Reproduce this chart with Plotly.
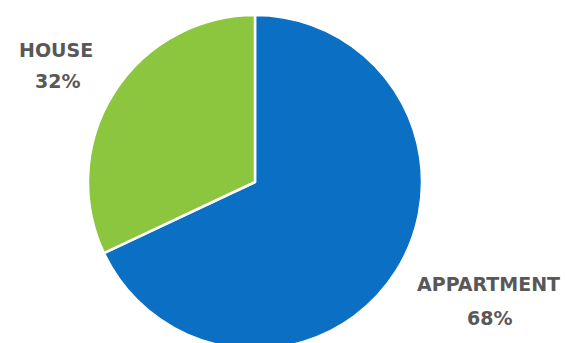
import plotly.graph_objects as go

# Share of dwelling types
categories = ["APPARTMENT", "HOUSE"]
shares = [68, 32]
colors = ["#0B6FC4", "#8CC63F"]

W, H = 566, 355
cx, cy, r = 255, 182, 167  # pie centre and radius in pixels

fig = go.Figure(
    go.Pie(
        labels=categories,
        values=shares,
        sort=False,
        direction="clockwise",
        rotation=0,
        textinfo="none",
        hoverinfo="label+percent",
        marker=dict(colors=colors, line=dict(color="white", width=2.5)),
        domain=dict(
            x=[(cx - r) / W, (cx + r) / W],
            y=[(H - cy - r) / H, (H - cy + r) / H],
        ),
        showlegend=False,
    )
)

# Outside labels: category name with its percentage underneath
name_pos = {"HOUSE": (56, 50), "APPARTMENT": (488, 284)}
pct_pos = {"HOUSE": (57, 81), "APPARTMENT": (489, 318)}
label_font = dict(family="DejaVu Sans", size=19, color="#585858", weight="bold")
for name, val in zip(categories, shares):
    for text, (x, y) in ((name, name_pos[name]), (f"{val}%", pct_pos[name])):
        fig.add_annotation(
            x=x / W, y=1 - y / H, xref="paper", yref="paper",
            xanchor="center", yanchor="middle",
            text=text, showarrow=False, font=label_font,
        )

fig.update_layout(
    width=W, height=H,
    margin=dict(l=0, r=0, t=0, b=0),
    paper_bgcolor="white",
    plot_bgcolor="white",
)

fig.write_html("out.html")
